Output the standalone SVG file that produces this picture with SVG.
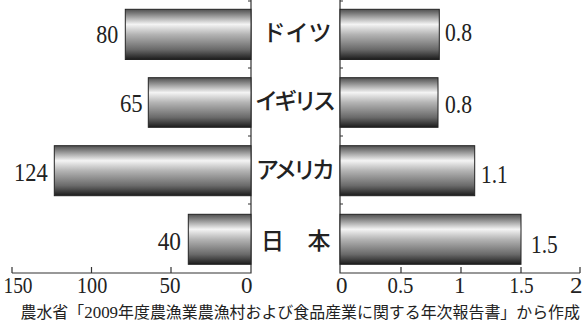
<svg xmlns="http://www.w3.org/2000/svg" width="586" height="323" viewBox="0 0 586 323">
<style>
.bar{fill:url(#g);stroke:#222;stroke-width:1}
.ax{stroke:#333;stroke-width:1.2;fill:none}
.num{font-family:"Liberation Serif","Times New Roman",serif;font-size:26px;fill:#222}
.tk{font-family:"Liberation Serif","Times New Roman",serif;font-size:23px;fill:#222}
.lab{font-family:"Noto Sans CJK JP","Noto Sans",sans-serif;font-size:23px;font-weight:500;fill:#222;text-anchor:middle}
.cap{font-family:"Liberation Serif","Noto Sans CJK JP",serif;font-size:16px;fill:#222}
</style>
<defs>
<linearGradient id="g" x1="0" y1="0" x2="0" y2="1">
<stop offset="0" stop-color="#505050"/>
<stop offset="0.08" stop-color="#7a7a7a"/>
<stop offset="0.3" stop-color="#f4f4f4"/>
<stop offset="0.5" stop-color="#b4b4b4"/>
<stop offset="0.8" stop-color="#6a6a6a"/>
<stop offset="1" stop-color="#1c1c1c"/>
</linearGradient>
</defs>
<rect width="586" height="323" fill="#fff"/>
<g id="axes" class="ax">
<path d="M251,0V273H12M12,267V273M91.5,267V273M171,267V273"/>
<path d="M248,1H251M248,68H251M248,136H251M248,204H251"/>
<path d="M340,0V273H580M401,267V273M461,267V273M521,267V273M580,267V273"/>
<path d="M340,1H343M340,68H343M340,136H343M340,204H343"/>
</g>
<g id="germany">
<rect class="bar" x="125.3" y="9.3" width="125.7" height="50.2"/>
<rect class="bar" x="340" y="9.3" width="99.3" height="50.2"/>
<text class="num" x="118.3" y="43.3" text-anchor="end" textLength="22" lengthAdjust="spacingAndGlyphs">80</text>
<text class="num" x="445" y="41" textLength="27" lengthAdjust="spacingAndGlyphs">0.8</text>
<text class="lab" x="297" y="41">ドイツ</text>
</g>
<g id="uk">
<rect class="bar" x="148.3" y="77.7" width="102.7" height="49.6"/>
<rect class="bar" x="340" y="77.7" width="98" height="49.6"/>
<text class="num" x="142.7" y="112" text-anchor="end" textLength="22.7" lengthAdjust="spacingAndGlyphs">65</text>
<text class="num" x="445" y="112.7" textLength="27" lengthAdjust="spacingAndGlyphs">0.8</text>
<text class="lab" x="295.5" y="109" textLength="81">イギリス</text>
</g>
<g id="usa">
<rect class="bar" x="54.3" y="145.7" width="196.7" height="50"/>
<rect class="bar" x="340" y="145.7" width="134.7" height="50"/>
<text class="num" x="47.7" y="181" text-anchor="end" textLength="33.7" lengthAdjust="spacingAndGlyphs">124</text>
<text class="num" x="481" y="182.5" textLength="26.7" lengthAdjust="spacingAndGlyphs">1.1</text>
<text class="lab" x="295.5" y="177.5" textLength="79">アメリカ</text>
</g>
<g id="japan">
<rect class="bar" x="188.3" y="214.3" width="62.7" height="50"/>
<rect class="bar" x="340" y="214.3" width="181" height="50"/>
<text class="num" x="181" y="250.3" text-anchor="end" textLength="23.3" lengthAdjust="spacingAndGlyphs">40</text>
<text class="num" x="531" y="253" textLength="26.7" lengthAdjust="spacingAndGlyphs">1.5</text>
<text class="lab" y="249"><tspan x="272.5">日</tspan><tspan x="319">本</tspan></text>
</g>
<g id="ticklabels">
<text class="tk" x="3.5" y="293" textLength="29" lengthAdjust="spacingAndGlyphs">150</text>
<text class="tk" x="77" y="293" textLength="30.3" lengthAdjust="spacingAndGlyphs">100</text>
<text class="tk" x="159.5" y="293" textLength="21" lengthAdjust="spacingAndGlyphs">50</text>
<text class="tk" x="241" y="293" textLength="11.5" lengthAdjust="spacingAndGlyphs">0</text>
<text class="tk" x="336" y="293" textLength="11.5" lengthAdjust="spacingAndGlyphs">0</text>
<text class="tk" x="387.5" y="293" textLength="26" lengthAdjust="spacingAndGlyphs">0.5</text>
<text class="tk" x="454" y="293" textLength="11.5" lengthAdjust="spacingAndGlyphs">1</text>
<text class="tk" x="509.5" y="293" textLength="24" lengthAdjust="spacingAndGlyphs">1.5</text>
<text class="tk" x="570" y="293" textLength="12.5" lengthAdjust="spacingAndGlyphs">2</text>
</g>
<text class="cap" x="20.5" y="318" textLength="559.5" lengthAdjust="spacingAndGlyphs">農水省「<tspan font-size="17">2009</tspan>年度農漁業農漁村および食品産業に関する年次報告書」から作成</text>
</svg>
